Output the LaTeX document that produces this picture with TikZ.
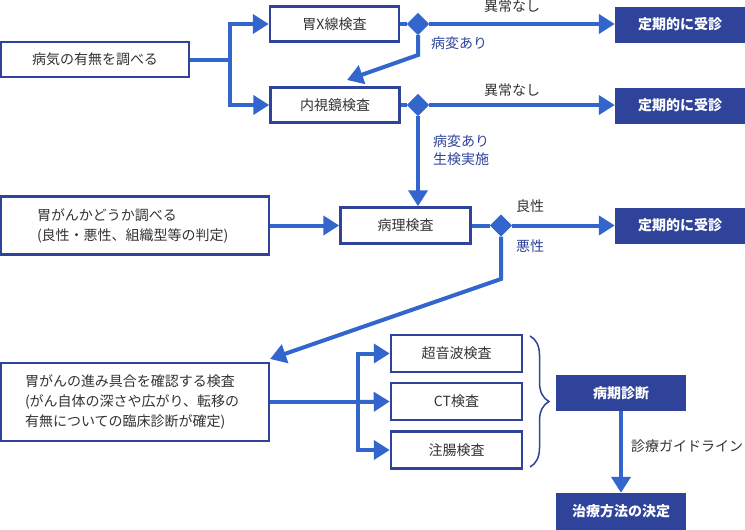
\documentclass[tikz,border=0pt]{standalone}
\usepackage{fontspec}
\setmainfont{Noto Sans CJK JP}
\usetikzlibrary{arrows.meta,shapes.geometric,decorations.pathreplacing}
\definecolor{navy}{HTML}{2E4399}
\definecolor{lineblue}{HTML}{3366CC}
\definecolor{txt}{HTML}{333333}
\tikzset{
  box/.style={draw=navy, line width=2.5pt, fill=white, text=txt, minimum height=35pt, inner sep=0pt, font=\fontsize{14}{20}\selectfont},
  fbox/.style={fill=navy, text=white, minimum width=130pt, minimum height=36pt, inner sep=0pt, font=\fontsize{14}{20}\selectfont\bfseries},
  dia/.style={diamond, fill=lineblue, minimum size=22pt, inner sep=0pt, aspect=1},
  conn/.style={draw=lineblue, line width=4pt},
  arr/.style={conn, -{Triangle[length=16pt,width=19pt]}},
  lbl/.style={text=txt, inner sep=0pt, font=\fontsize{14}{18}\selectfont},
  blbl/.style={text=navy, inner sep=0pt, font=\fontsize{14}{18}\selectfont},
}
\begin{document}
\begin{tikzpicture}[x=1pt,y=-1pt]
\useasboundingbox (0,0) rectangle (745,530);
% boxes
\node[box, minimum width=188pt] (A) at (95,59.5) {病気の有無を調べる};
\node[box, minimum width=129pt] (B) at (334.5,24) {胃X線検査};
\node[box, minimum width=129pt] (C) at (335,105) {内視鏡検査};
\node[fbox] (D1) at (680,24.5) {定期的に受診};
\node[fbox] (D2) at (680,105.5) {定期的に受診};
\node[box, minimum width=130pt, minimum height=36pt] (P) at (405.5,225.5) {病理検査};
\node[fbox] (D3) at (680,225.5) {定期的に受診};
\node[box, minimum width=268pt, minimum height=58pt, align=left, text width=196pt] (E) at (135,225.5) {胃がんかどうか調べる\\(良性・悪性、組織型等の判定)};
\node[box, minimum width=268pt, minimum height=78pt, align=left, text width=220pt] (F) at (135,402) {胃がんの進み具合を確認する検査\\(がん自体の深さや広がり、転移の\\有無についての臨床診断が確定)};
\node[box, minimum width=131pt, minimum height=37pt] (G1) at (456.5,353.5) {超音波検査};
\node[box, minimum width=131pt, minimum height=37pt] (G2) at (456.5,401.5) {CT検査};
\node[box, minimum width=131pt, minimum height=37pt] (G3) at (456.5,450) {注腸検査};
\node[fbox] (H) at (621,393) {病期診断};
\node[fbox, minimum height=37pt] (I) at (621,511.5) {治療方法の決定};
% diamonds
\node[dia] (dB) at (418,24) {};
\node[dia] (dC) at (418,105) {};
\node[dia] (dP) at (501,225.5) {};
% coordinates
\coordinate (J1) at (230,59.5);
\coordinate (K1) at (418,55);
\coordinate (T1) at (347,80);
\coordinate (K2) at (501,279);
\coordinate (T2) at (270,359);
\coordinate (J2) at (358,402);
% connectors
\draw[conn] (A.east) -- (J1);
\draw[arr] (J1) |- (B.west);
\draw[arr] (J1) |- (C.west);
\draw[conn] (B.east) -- (dB);
\draw[arr] (dB) -- (D1.west |- dB);
\draw[arr] (dB.south) -- (K1) -- (T1);
\draw[conn] (C.east) -- (dC);
\draw[arr] (dC) -- (D2.west |- dC);
\draw[arr] (dC.south) -- (dC |- P.north);
\draw[arr] (E.east) -- (E.east -| P.west);
\draw[conn] (P.east) -- (dP);
\draw[arr] (dP) -- (D3.west |- dP);
\draw[arr] (dP.south) -- (K2) -- (T2);
\draw[conn] (F.east) -- (J2);
\draw[arr] (J2) |- (G1.west);
\draw[arr] (J2) -- (G2.west);
\draw[arr] (J2) |- (G3.west);
\draw[arr] (H.south) -- (I.north);
% redraw diamonds on top
\node[dia] at (dB) {};
\node[dia] at (dC) {};
\node[dia] at (dP) {};
% brace
\draw[navy, line width=1.5pt, decorate, decoration={brace, amplitude=19pt}] (530,336) -- (530,467);
% labels
\node[lbl] (l1) at (512,6) {異常なし};
\node[lbl] (l2) at (512,90) {異常なし};
\node[blbl] (l3) at (459,43) {病変あり};
\node[blbl, anchor=west, align=left, font=\fontsize{14}{18}\selectfont] (l4) at (433,150) {病変あり\\生検実施};
\node[lbl] (l5) at (530,206) {良性};
\node[blbl] (l6) at (530,246) {悪性};
\node[lbl] (l7) at (687,446) {診療ガイドライン};
\end{tikzpicture}
\end{document}
